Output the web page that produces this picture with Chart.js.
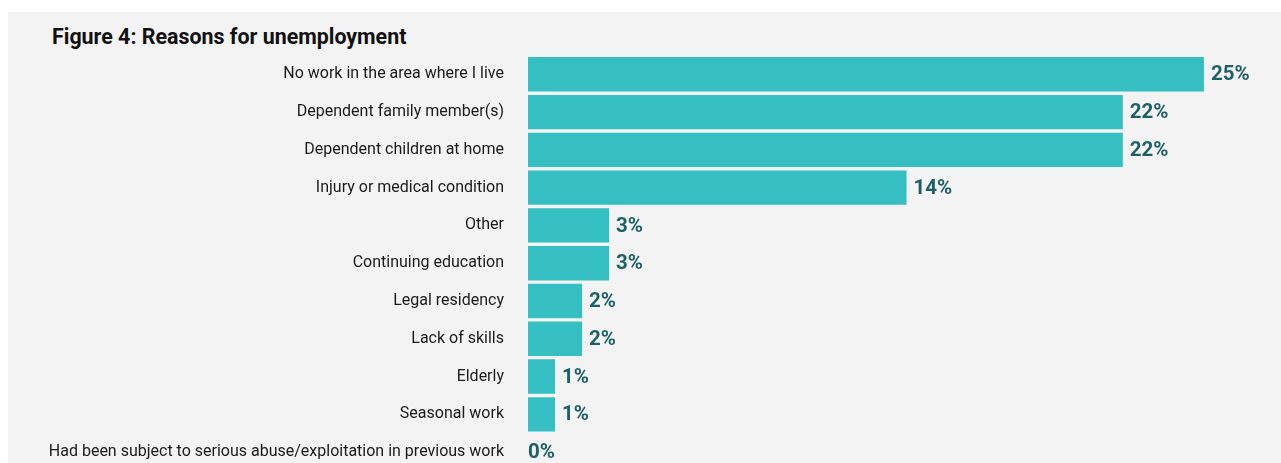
<!DOCTYPE html>
<html>
<head>
<meta charset="utf-8">
<script src="https://cdn.jsdelivr.net/npm/chart.js@4.4.0/dist/chart.umd.min.js"></script>
<style>
  html, body { margin: 0; padding: 0; background: #ffffff; overflow: hidden; width: 1281px; height: 463px; }
  #bg { position: absolute; left: 8px; top: 12px; width: 1273px; height: 500px; background: #f3f3f3; }
  #title { position: absolute; left: 52px; top: 24px; font-family: Roboto, sans-serif; font-weight: bold; font-size: 21.4px; color: #111; line-height: 26px; white-space: nowrap; }
  #c { position: absolute; left: 0; top: 0; }
</style>
</head>
<body>
<div id="bg"></div>
<div id="title">Figure 4: Reasons for unemployment</div>
<canvas id="c" width="1281" height="510"></canvas>
<script>
const categories = [
  "No work in the area where I live",
  "Dependent family member(s)",
  "Dependent children at home",
  "Injury or medical condition",
  "Other",
  "Continuing education",
  "Legal residency",
  "Lack of skills",
  "Elderly",
  "Seasonal work",
  "Had been subject to serious abuse/exploitation in previous work"
];
const percentages = [25, 22, 22, 14, 3, 3, 2, 2, 1, 1, 0];
const valueLabels = ["25%", "22%", "22%", "14%", "3%", "3%", "2%", "2%", "1%", "1%", "0%"];

const labelPlugin = {
  id: 'valueLabels',
  afterDatasetsDraw(chart) {
    const ctx = chart.ctx;
    const meta = chart.getDatasetMeta(0);
    ctx.save();
    ctx.font = 'bold 20.5px Roboto, sans-serif';
    ctx.fillStyle = '#1c6168';
    ctx.textAlign = 'left';
    ctx.textBaseline = 'middle';
    meta.data.forEach((bar, i) => {
      const x = percentages[i] > 0 ? bar.x + 7 : bar.x;
      ctx.fillText(valueLabels[i], x, bar.y + 1);
    });
    ctx.restore();
  }
};

new Chart(document.getElementById('c'), {
  type: 'bar',
  data: {
    labels: categories,
    datasets: [{
      data: percentages,
      backgroundColor: '#35bfc2',
      borderWidth: 0,
      barPercentage: 0.91,
      categoryPercentage: 1
    }]
  },
  options: {
    indexAxis: 'y',
    responsive: false,
    animation: false,
    layout: { padding: { top: 55.4, bottom: 39, left: 0, right: 23 } },
    plugins: { legend: { display: false }, tooltip: { enabled: false } },
    scales: {
      x: { display: false, min: 0, max: 27 },
      y: {
        afterFit(scale) { scale.width = 528; },
        grid: { display: false, drawTicks: false },
        border: { display: false },
        ticks: {
          padding: 24,
          color: '#1a1a1a',
          font: { family: 'Roboto, sans-serif', size: 16 }
        }
      }
    }
  },
  plugins: [labelPlugin]
});
</script>
</body>
</html>
